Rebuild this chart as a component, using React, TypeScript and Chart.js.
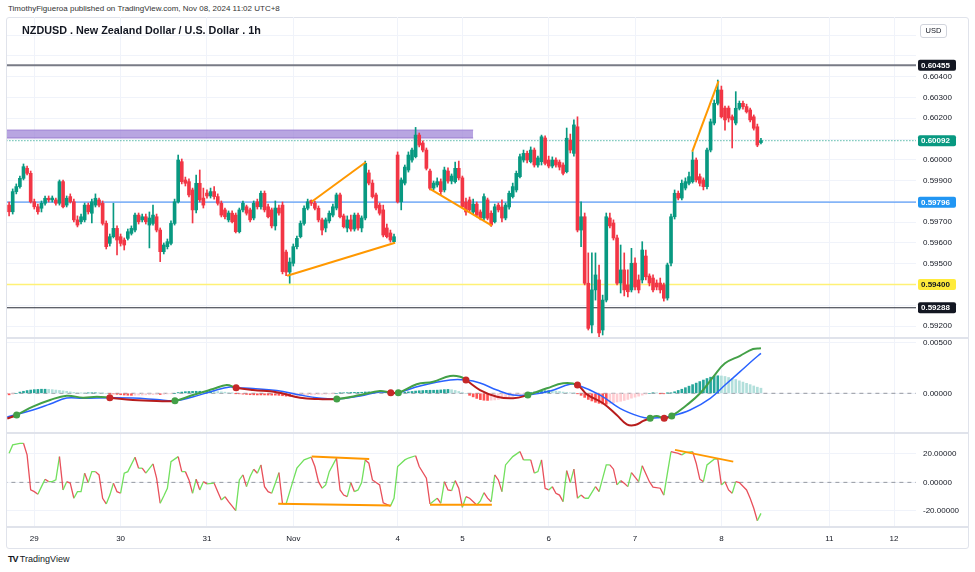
import React, { useEffect, useRef } from 'react';
import { Chart, registerables } from 'chart.js';

Chart.register(...registerables);

// ---------------- data ----------------
const dayLabels = ['29', '30', '31', 'Nov', '4', '5', '6', '7', '8', '11', '12'];
const dayBars = [7, 31, 55, 79, 108, 126, 150, 174, 198, 228, 246];

const opens = [
  0.59782, 0.59750, 0.59847, 0.59871, 0.59911, 0.59959, 0.59935, 0.59798, 0.59774, 0.59767,
  0.59791, 0.59815, 0.59807, 0.59807, 0.59791, 0.59895, 0.59782, 0.59823, 0.59798, 0.59711,
  0.59702, 0.59711, 0.59782, 0.59743, 0.59782, 0.59807, 0.59791, 0.59694, 0.59598, 0.59630,
  0.59670, 0.59630, 0.59614, 0.59622, 0.59646, 0.59662, 0.59734, 0.59711, 0.59726, 0.59686,
  0.59694, 0.59726, 0.59662, 0.59558, 0.59582, 0.59598, 0.59694, 0.59798, 0.59991, 0.59903,
  0.59895, 0.59855, 0.59759, 0.59887, 0.59816, 0.59840, 0.59826, 0.59847, 0.59823, 0.59791,
  0.59759, 0.59711, 0.59743, 0.59734, 0.59654, 0.59759, 0.59774, 0.59759, 0.59720, 0.59798,
  0.59774, 0.59839, 0.59774, 0.59759, 0.59682, 0.59768, 0.59782, 0.59556, 0.59460, 0.59502,
  0.59582, 0.59630, 0.59694, 0.59767, 0.59804, 0.59791, 0.59767, 0.59711, 0.59672, 0.59706,
  0.59734, 0.59768, 0.59831, 0.59730, 0.59672, 0.59711, 0.59667, 0.59734, 0.59672, 0.59720,
  0.59937, 0.59888, 0.59831, 0.59782, 0.59759, 0.59672, 0.59648, 0.59606, 0.60023, 0.59798,
  0.59888, 0.59951, 0.59999, 0.60015, 0.60119, 0.60081, 0.60047, 0.59946, 0.59864, 0.59879,
  0.59895, 0.59855, 0.59946, 0.59898, 0.59895, 0.59959, 0.59913, 0.59797, 0.59807, 0.59749,
  0.59787, 0.59749, 0.59720, 0.59807, 0.59743, 0.59702, 0.59782, 0.59773, 0.59720, 0.59773,
  0.59823, 0.59855, 0.59919, 0.59999, 0.60031, 0.59991, 0.60047, 0.59975, 0.59991, 0.60105,
  0.59999, 0.59970, 0.59999, 0.59989, 0.59975, 0.59943, 0.60095, 0.60031, 0.60159, 0.59662,
  0.59726, 0.59406, 0.59205, 0.59374, 0.59422, 0.59181, 0.59325, 0.59720, 0.59696, 0.59624,
  0.59407, 0.59470, 0.59398, 0.59374, 0.59503, 0.59422, 0.59422, 0.59537, 0.59441, 0.59431,
  0.59407, 0.59407, 0.59398, 0.59335, 0.59503, 0.59726, 0.59839, 0.59816, 0.59864, 0.59887,
  0.59895, 0.59999, 0.59919, 0.59903, 0.59871, 0.60047, 0.60177, 0.60272, 0.60336, 0.60249,
  0.60249, 0.60207, 0.60177, 0.60248, 0.60272, 0.60256, 0.60240, 0.60207, 0.60159, 0.60083,
];
const highs = [
  0.59797, 0.59860, 0.59884, 0.59922, 0.59980, 0.59970, 0.59946, 0.59811, 0.59787, 0.59802,
  0.59826, 0.59826, 0.59826, 0.59816, 0.59903, 0.59903, 0.59826, 0.59836, 0.59811, 0.59730,
  0.59739, 0.59792, 0.59792, 0.59811, 0.59836, 0.59816, 0.59802, 0.59706, 0.59643, 0.59791,
  0.59682, 0.59643, 0.59624, 0.59667, 0.59682, 0.59744, 0.59744, 0.59739, 0.59739, 0.59749,
  0.59782, 0.59739, 0.59672, 0.59600, 0.59619, 0.59706, 0.59811, 0.60023, 0.60004, 0.59917,
  0.59908, 0.59864, 0.59927, 0.59951, 0.59864, 0.59855, 0.59864, 0.59871, 0.59836, 0.59802,
  0.59768, 0.59754, 0.59754, 0.59744, 0.59768, 0.59802, 0.59782, 0.59768, 0.59802, 0.59811,
  0.59850, 0.59850, 0.59787, 0.59768, 0.59802, 0.59782, 0.59797, 0.59566, 0.59528, 0.59595,
  0.59633, 0.59706, 0.59778, 0.59811, 0.59807, 0.59802, 0.59778, 0.59720, 0.59720, 0.59754,
  0.59787, 0.59840, 0.59840, 0.59739, 0.59730, 0.59734, 0.59744, 0.59744, 0.59730, 0.59994,
  0.59951, 0.59903, 0.59840, 0.59792, 0.59782, 0.59691, 0.59662, 0.59643, 0.60038, 0.59913,
  0.59975, 0.60038, 0.60057, 0.60156, 0.60129, 0.60091, 0.60057, 0.59956, 0.59898, 0.59913,
  0.59908, 0.59965, 0.59961, 0.59932, 0.59989, 0.59994, 0.59922, 0.59816, 0.59821, 0.59811,
  0.59797, 0.59759, 0.59836, 0.59816, 0.59754, 0.59787, 0.59792, 0.59807, 0.59792, 0.59850,
  0.59888, 0.59946, 0.60028, 0.60047, 0.60042, 0.60062, 0.60057, 0.60018, 0.60119, 0.60115,
  0.60018, 0.60014, 0.60009, 0.59999, 0.59985, 0.60153, 0.60124, 0.60192, 0.60207, 0.59798,
  0.59744, 0.59552, 0.59552, 0.59552, 0.59494, 0.59349, 0.59744, 0.59744, 0.59711, 0.59638,
  0.59590, 0.59552, 0.59470, 0.59574, 0.59528, 0.59446, 0.59606, 0.59566, 0.59451, 0.59446,
  0.59422, 0.59431, 0.59407, 0.59503, 0.59739, 0.59855, 0.59850, 0.59903, 0.59913, 0.59941,
  0.60039, 0.60009, 0.59932, 0.59913, 0.60057, 0.60196, 0.60288, 0.60384, 0.60355, 0.60259,
  0.60259, 0.60216, 0.60328, 0.60283, 0.60283, 0.60268, 0.60249, 0.60216, 0.60172, 0.60104,
];
const lows = [
  0.59730, 0.59739, 0.59836, 0.59864, 0.59903, 0.59927, 0.59792, 0.59763, 0.59739, 0.59749,
  0.59782, 0.59797, 0.59797, 0.59782, 0.59782, 0.59768, 0.59773, 0.59792, 0.59701, 0.59677,
  0.59691, 0.59701, 0.59739, 0.59696, 0.59773, 0.59773, 0.59686, 0.59571, 0.59585, 0.59624,
  0.59542, 0.59585, 0.59566, 0.59614, 0.59638, 0.59653, 0.59691, 0.59701, 0.59691, 0.59576,
  0.59686, 0.59653, 0.59510, 0.59547, 0.59571, 0.59590, 0.59686, 0.59792, 0.59884, 0.59874,
  0.59821, 0.59696, 0.59744, 0.59797, 0.59768, 0.59816, 0.59816, 0.59811, 0.59782, 0.59725,
  0.59715, 0.59701, 0.59696, 0.59648, 0.59648, 0.59749, 0.59734, 0.59701, 0.59711, 0.59763,
  0.59763, 0.59749, 0.59720, 0.59672, 0.59662, 0.59734, 0.59451, 0.59442, 0.59406, 0.59489,
  0.59571, 0.59624, 0.59686, 0.59759, 0.59780, 0.59759, 0.59701, 0.59638, 0.59653, 0.59696,
  0.59725, 0.59759, 0.59720, 0.59672, 0.59653, 0.59657, 0.59657, 0.59662, 0.59653, 0.59711,
  0.59879, 0.59816, 0.59759, 0.59734, 0.59629, 0.59624, 0.59604, 0.59600, 0.59792, 0.59759,
  0.59879, 0.59941, 0.59989, 0.60009, 0.60062, 0.60038, 0.59951, 0.59855, 0.59855, 0.59869,
  0.59831, 0.59845, 0.59888, 0.59884, 0.59888, 0.59903, 0.59768, 0.59734, 0.59749, 0.59739,
  0.59725, 0.59711, 0.59711, 0.59711, 0.59679, 0.59696, 0.59749, 0.59701, 0.59711, 0.59763,
  0.59816, 0.59845, 0.59913, 0.59989, 0.59985, 0.59985, 0.59965, 0.59965, 0.59975, 0.59975,
  0.59961, 0.59961, 0.59965, 0.59951, 0.59927, 0.59937, 0.60033, 0.60018, 0.59653, 0.59582,
  0.59398, 0.59181, 0.59167, 0.59325, 0.59149, 0.59157, 0.59316, 0.59672, 0.59614, 0.59398,
  0.59359, 0.59345, 0.59340, 0.59364, 0.59374, 0.59359, 0.59407, 0.59422, 0.59393, 0.59364,
  0.59374, 0.59359, 0.59320, 0.59325, 0.59489, 0.59715, 0.59807, 0.59807, 0.59855, 0.59879,
  0.59888, 0.59893, 0.59874, 0.59855, 0.59860, 0.60038, 0.60168, 0.60264, 0.60201, 0.60143,
  0.60182, 0.60057, 0.60168, 0.60240, 0.60244, 0.60225, 0.60182, 0.60143, 0.60063, 0.60076,
];
const closes = [
  0.59750, 0.59847, 0.59871, 0.59911, 0.59967, 0.59935, 0.59798, 0.59774, 0.59750, 0.59791,
  0.59815, 0.59807, 0.59816, 0.59791, 0.59895, 0.59774, 0.59815, 0.59798, 0.59711, 0.59686,
  0.59726, 0.59782, 0.59750, 0.59798, 0.59815, 0.59782, 0.59694, 0.59582, 0.59630, 0.59670,
  0.59614, 0.59598, 0.59590, 0.59654, 0.59670, 0.59734, 0.59702, 0.59726, 0.59702, 0.59720,
  0.59734, 0.59662, 0.59558, 0.59590, 0.59606, 0.59694, 0.59798, 0.59999, 0.59895, 0.59887,
  0.59831, 0.59759, 0.59887, 0.59807, 0.59782, 0.59826, 0.59847, 0.59823, 0.59791, 0.59734,
  0.59726, 0.59744, 0.59702, 0.59654, 0.59759, 0.59791, 0.59743, 0.59711, 0.59791, 0.59774,
  0.59839, 0.59759, 0.59726, 0.59682, 0.59768, 0.59744, 0.59462, 0.59460, 0.59508, 0.59582,
  0.59622, 0.59694, 0.59767, 0.59798, 0.59791, 0.59767, 0.59711, 0.59662, 0.59711, 0.59743,
  0.59774, 0.59831, 0.59726, 0.59678, 0.59711, 0.59667, 0.59734, 0.59672, 0.59720, 0.59983,
  0.59888, 0.59823, 0.59768, 0.59743, 0.59638, 0.59630, 0.59614, 0.59630, 0.59798, 0.59903,
  0.59965, 0.60023, 0.60047, 0.60119, 0.60071, 0.60047, 0.59959, 0.59863, 0.59888, 0.59895,
  0.59847, 0.59951, 0.59898, 0.59922, 0.59959, 0.59913, 0.59774, 0.59749, 0.59759, 0.59787,
  0.59734, 0.59720, 0.59823, 0.59719, 0.59686, 0.59774, 0.59759, 0.59720, 0.59782, 0.59839,
  0.59871, 0.59935, 0.60015, 0.60031, 0.59999, 0.60047, 0.59975, 0.60009, 0.60111, 0.59983,
  0.59970, 0.59999, 0.59975, 0.59965, 0.59935, 0.60104, 0.60047, 0.60168, 0.59662, 0.59726,
  0.59406, 0.59189, 0.59374, 0.59446, 0.59167, 0.59325, 0.59726, 0.59682, 0.59624, 0.59406,
  0.59470, 0.59374, 0.59365, 0.59502, 0.59388, 0.59374, 0.59566, 0.59437, 0.59407, 0.59374,
  0.59388, 0.59374, 0.59334, 0.59494, 0.59726, 0.59839, 0.59816, 0.59887, 0.59895, 0.59919,
  0.59999, 0.59903, 0.59887, 0.59871, 0.60047, 0.60183, 0.60272, 0.60336, 0.60207, 0.60192,
  0.60201, 0.60192, 0.60248, 0.60272, 0.60256, 0.60231, 0.60192, 0.60152, 0.60071, 0.60092,
];

// horizontal levels drawn on the price pane
const levelValues = [0.60455, 0.60092, 0.59796, 0.594, 0.59288];
// purple supply zone
const zoneTop = 0.60143;
const zoneBottom = 0.60105;
const zoneEndBar = 129;
// orange trend lines on price pane
const priceTrendStartBar = [77.3, 84.1, 117.0, 189.9];
const priceTrendStartVal = [0.59442, 0.59798, 0.5986, 0.60039];
const priceTrendEndBar = [107.3, 99.1, 134.2, 197.2];
const priceTrendEndVal = [0.59601, 0.59988, 0.59683, 0.60379];

// price axis
const priceGrid = [0.592, 0.593, 0.594, 0.595, 0.596, 0.597, 0.598, 0.599, 0.6, 0.601, 0.602, 0.603, 0.604, 0.605, 0.606];
const priceShown = [0.592, 0.595, 0.596, 0.597, 0.599, 0.6, 0.602, 0.603, 0.604];

// MACD
const macdBars = [-0.5, 2.1, 6.6, 11.4, 16, 20.5, 24.4, 28, 34.4, 41, 46.1, 51.1, 56.7, 60.5, 63.1, 67.8, 74.4, 80.9, 86, 91.1, 97.6, 103.1, 106.1, 108.2, 113.3, 117.9, 122.6, 125.4, 127, 130.9, 135.6, 140.1, 144.2, 149.5, 154, 158, 160.6, 165.1, 168.9, 171.7, 174, 176.3, 178.2, 180, 182.1, 184.2, 188.4, 192.1, 195.8, 199, 203.2, 206.8, 209];
const macdValues = [-0.00247, -0.00213, -0.00131, -0.00066, -0.00024, -0.00043, -0.00033, -0.00043, -0.00066, -0.00075, -0.00073, -0.00017, 0.00042, 0.00081, 0.00055, 0.00032, 0.0001, -0.00043, -0.00056, -0.00056, -0.00017, 0.00023, 0.00006, 0.00006, 0.00088, 0.00114, 0.0017, 0.00163, 0.0013, 0.00032, -0.00033, -0.00049, -0.00017, 0.00049, 0.00098, 0.00081, -0.0001, -0.00098, -0.00213, -0.00304, -0.00311, -0.00271, -0.00245, -0.00222, -0.00245, -0.00222, -0.00115, 0.0, 0.00163, 0.00294, 0.00368, 0.00434, 0.00441];
const signalBars = [-0.5, 6.6, 11.4, 16, 20.5, 28, 34.4, 41, 46.1, 51, 56.7, 61.4, 63.1, 67.8, 74.4, 80.9, 86, 91.1, 97.6, 103, 106.1, 108.2, 114.2, 122.6, 127, 130.9, 135.6, 140.1, 144.2, 150.4, 155.9, 158, 164.3, 169.8, 175.4, 178.2, 181, 184.2, 189.3, 194.9, 199, 203.2, 206.8, 209];
const signalValues = [-0.00232, -0.00164, -0.00105, -0.00046, -0.00049, -0.00043, -0.00046, -0.00061, -0.00073, -0.00036, 0.00023, 0.00062, 0.00055, 0.00047, 0.00027, -0.00017, -0.00046, -0.00056, -0.00026, 0.00013, 0.00006, 0.00006, 0.00072, 0.0013, 0.0013, 0.00101, 0.00032, -0.00017, -0.00017, 0.00023, 0.00088, 0.00081, -0.00017, -0.00147, -0.00229, -0.00245, -0.00237, -0.00222, -0.00164, -0.00049, 0.00081, 0.00212, 0.00326, 0.00392];
const bullCrossBars = [2.1, 46.1, 91.1, 108.2, 144.2, 178.2, 184.2];
const bullCrossValues = [-0.00213, -0.00073, -0.00056, 0.00006, -0.00017, -0.00245, -0.00222];
const bearCrossBars = [28, 63.1, 106.1, 127, 158, 182.1];
const bearCrossValues = [-0.00043, 0.00055, 0.00006, 0.0013, 0.00081, -0.00245];
const histogram = [
  -0.00015, -0.00008, 0, 0.00012, 0.0002, 0.00027, 0.00032, 0.00036, 0.00038, 0.0004,
  0.0004, 0.00039, 0.00036, 0.00032, 0.00028, 0.00024, 0.0002, 0.00014, 0.00009, 0.00005,
  0.00003, 0.00002, 0.00003, 0.00004, 0.00004, 0.00003, 0.00001, 0, -0.00002, -0.00006,
  -0.0001, -0.00014, -0.00017, -0.00019, -0.0002, -0.00019, -0.00018, -0.00017, -0.00015, -0.00014,
  -0.00013, -0.00012, -0.00012, -0.00009, -0.00006, -0.00003, 0, 0.00007, 0.00012, 0.00016,
  0.00018, 0.00019, 0.0002, 0.0002, 0.00019, 0.00019, 0.00019, 0.00018, 0.00017, 0.00014,
  0.00011, 0.00006, 0.00002, -0.00001, -0.00005, -0.00008, -0.00011, -0.00014, -0.00015, -0.00016,
  -0.00016, -0.00016, -0.00017, -0.00018, -0.00018, -0.0002, -0.00024, -0.00028, -0.00029, -0.00028,
  -0.00026, -0.00023, -0.00019, -0.00016, -0.00014, -0.00012, -0.0001, -0.00009, -0.00008, -0.00006,
  -0.00003, 0, 0.00003, 0.00005, 0.00006, 0.00008, 0.00009, 0.00009, 0.0001, 0.00013,
  0.00014, 0.00013, 0.00012, 0.0001, 0.00007, 0.00003, 0, -0.00001, 0.00001, 0.00005,
  0.0001, 0.00014, 0.00018, 0.00022, 0.00025, 0.00027, 0.00029, 0.0003, 0.0003, 0.00031,
  0.00033, 0.00036, 0.00038, 0.00035, 0.00028, 0.00018, 0.00008, 0, -0.0002, -0.00035,
  -0.0005, -0.00062, -0.00068, -0.0007, -0.00068, -0.00065, -0.0006, -0.00052, -0.00045, -0.00037,
  -0.0003, -0.00022, -0.00012, -0.00005, 0, 0.00008, 0.00013, 0.00018, 0.00022, 0.00025,
  0.00027, 0.00026, 0.00022, 0.00018, 0.00012, 0.00008, 0.00005, 0.00002, -0.00002, -0.0002,
  -0.0004, -0.0006, -0.00075, -0.00088, -0.00098, -0.00105, -0.00108, -0.001, -0.00092, -0.00085,
  -0.00078, -0.0007, -0.0006, -0.00048, -0.00038, -0.00028, -0.00018, -0.00008, 0, 0.00005,
  0.00004, -0.00002, -0.00003, 0.00001, 0.00003, 0.00015, 0.00028, 0.0004, 0.00055, 0.0007,
  0.00085, 0.001, 0.00115, 0.0013, 0.00145, 0.00158, 0.00168, 0.00172, 0.0017, 0.00165,
  0.00155, 0.00145, 0.00135, 0.00122, 0.0011, 0.00098, 0.00085, 0.00072, 0.0006, 0.0005,
];

// Oscillator (lower pane)
const oscBars = [0, 1, 3, 4, 5, 6, 7, 8, 9, 10, 11, 12, 13, 14, 15, 16, 17, 18, 19, 20, 21, 22, 23, 24, 25, 26, 27, 28, 29, 30, 31, 32, 33, 35, 36, 37, 38, 40, 41, 42, 43, 44, 45, 47, 48, 49, 50, 51, 52, 53, 54, 55, 57, 58, 59, 60, 61, 63, 64, 65, 66, 67, 68, 69, 70, 71, 72, 73, 74, 75, 76, 77, 79, 80, 82, 84, 85, 86, 87, 88, 89, 91, 92, 93, 94, 95, 96, 97, 98, 99, 100, 101, 103, 104, 106, 107, 108, 110, 111, 113, 114, 116, 117, 119, 120, 121, 122, 123, 124, 125, 126, 127, 128, 130, 131, 132, 133, 134, 135, 136, 137, 138, 140, 142, 143, 145, 146, 147, 148, 149, 150, 151, 152, 153, 154, 155, 156, 157, 158, 159, 160, 161, 163, 164, 166, 167, 168, 169, 170, 171, 172, 173, 175, 176, 178, 179, 181, 182, 183, 184, 186, 187, 188, 190, 191, 192, 193, 194, 196, 197, 198, 199, 200, 201, 202, 203, 205, 206, 207, 208, 209];
const oscValues = [20.3, 26.2, 27.3, 27.3, 19.2, -5.3, -6.5, -8.3, -3.0, 2.2, 0.5, 0.5, 1.7, 18.0, -5.3, 0.5, -0.6, -11.1, -6.5, -6.5, 6.4, -0.2, 7.5, 7.5, 5.2, -11.1, -15.1, -8.9, -0.6, -6.5, -7.6, 6.4, 7.5, 17.6, 9.9, 9.9, 6.4, 12.9, 2.9, -14.6, -9.5, -4.1, 14.5, 18.0, 7.5, 7.5, 1.7, -7.6, 2.2, -5.3, 0.5, -1.1, -0.6, -6.5, -12.3, -10.0, -13.5, -19.8, 1.7, 5.2, -3.0, 4.1, 9.2, 6.4, 12.2, -3.0, -6.5, -7.6, -0.6, 6.8, -15.1, -15.1, 1.7, 9.9, 15.7, 17.6, 11.1, 0.5, -4.1, -1.8, 7.5, 16.9, -5.3, -8.9, -10.0, -0.2, -6.5, -5.3, -0.2, 15.7, 13.4, 1.7, -1.8, -14.3, -16.6, -11.1, 11.1, 15.7, 17.0, 18.6, 11.1, 2.9, -15.1, -11.1, -14.6, 0.5, -5.3, -5.8, 1.2, -4.1, -17.4, -10.0, -11.1, -15.8, -13.0, -7.2, -11.0, -13.5, 5.2, 1.7, -6.5, 12.2, 18.0, 21.5, 15.7, 15.7, 6.4, 7.5, 15.7, -4.1, -5.3, -3.0, -7.6, -8.9, -13.5, 8.2, -0.2, 9.2, -11.1, -8.9, -11.1, -11.1, -3.0, -6.5, 12.2, 12.2, 9.2, -1.8, 1.2, -0.6, -3.0, 6.8, 0.5, 11.6, 0.5, -3.4, -4.1, -8.9, 6.4, 21.5, 20.3, 19.2, 20.8, 21.5, 13.4, 2.2, 0.5, 12.2, 16.2, 16.2, -1.8, 0.5, -5.3, -7.6, 0.5, -0.2, -5.3, -11.1, -18.1, -26.8, -21.7];
const oscTrendStartBar = [84.1, 74.8, 117.0, 185.1];
const oscTrendStartVal = [18.0, -15.0, -15.7, 22.7];
const oscTrendEndBar = [100.1, 106.1, 134.2, 201.3];
const oscTrendEndVal = [16.4, -16.2, -15.7, 14.5];

// ---------------- styling ----------------
const UP = '#089981';
const DOWN = '#f23645';
const FONT = "'Liberation Sans', Arial, sans-serif";
const levelStyles = [
  { line: '#787b86', width: 2, dash: [] as number[], bg: '#131722', fg: '#ffffff' },
  { line: '#089981', width: 1, dash: [1, 2], bg: '#089981', fg: '#ffffff' },
  { line: '#5b9cf6', width: 1.2, dash: [] as number[], bg: '#2196f3', fg: '#ffffff' },
  { line: '#fff176', width: 1.5, dash: [] as number[], bg: '#ffeb3b', fg: '#131722' },
  { line: '#2a2e39', width: 1.2, dash: [] as number[], bg: '#131722', fg: '#ffffff' },
];

const X_MIN = -0.584;
const X_MAX = 252.1;

function macdBullishAt(k: number): boolean {
  let state = false;
  let last = -Infinity;
  bullCrossBars.forEach((b) => { if (b <= k && b > last) { last = b; state = true; } });
  bearCrossBars.forEach((b) => { if (b <= k && b > last) { last = b; state = false; } });
  return state;
}

const levelLabelPlugin = {
  id: 'levelLabels',
  afterDraw(chart: any) {
    const { ctx } = chart;
    const ys = chart.scales.price;
    const macd = chart.scales.macd;
    const osc = chart.scales.osc;
    ctx.save();
    // pane separators
    ctx.strokeStyle = '#e0e3eb';
    ctx.lineWidth = 2;
    [macd.top, osc.top, chart.chartArea.bottom].forEach((y: number) => {
      ctx.beginPath();
      ctx.moveTo(0, Math.round(y));
      ctx.lineTo(chart.width, Math.round(y));
      ctx.stroke();
    });
    ctx.font = `bold 8px ${FONT}`;
    ctx.textBaseline = 'middle';
    levelValues.forEach((v, i) => {
      const y = ys.getPixelForValue(v);
      const st = levelStyles[i];
      ctx.fillStyle = st.bg;
      ctx.beginPath();
      ctx.roundRect(ys.left + 2, y - 5.5, 38, 11, 2);
      ctx.fill();
      ctx.fillStyle = st.fg;
      ctx.fillText(v.toFixed(5), ys.left + 5, y + 0.5);
    });
    ctx.restore();
  },
};

function buildConfig(): any {
  const idx = closes.map((_, i) => i);
  const datasets: any[] = [];

  // purple zone
  datasets.push({
    type: 'line', yAxisID: 'price', order: 20,
    data: [{ x: X_MIN - 1, y: zoneTop }, { x: zoneEndBar, y: zoneTop }],
    borderColor: 'rgba(149,117,205,0.9)', borderWidth: 1, pointRadius: 0,
  });
  datasets.push({
    type: 'line', yAxisID: 'price', order: 19,
    data: [{ x: X_MIN - 1, y: zoneBottom }, { x: zoneEndBar, y: zoneBottom }],
    borderColor: 'rgba(149,117,205,0.9)', borderWidth: 1, pointRadius: 0,
    fill: '-1', backgroundColor: 'rgba(160,135,215,0.75)',
  });

  // horizontal levels
  levelValues.forEach((v, i) => {
    const st = levelStyles[i];
    datasets.push({
      type: 'line', yAxisID: 'price', order: 15,
      data: [{ x: X_MIN - 1, y: v }, { x: X_MAX + 1, y: v }],
      borderColor: st.line, borderWidth: st.width, borderDash: st.dash, pointRadius: 0,
    });
  });

  // candle wicks
  datasets.push({
    type: 'bar', yAxisID: 'price', order: 5, grouped: false,
    data: idx.map((i) => ({ x: i, y: [lows[i], highs[i]] })),
    backgroundColor: (c: any) => (closes[c.dataIndex] >= opens[c.dataIndex] ? UP : DOWN),
    barThickness: 1, borderWidth: 0,
  });
  // candle bodies
  datasets.push({
    type: 'bar', yAxisID: 'price', order: 4, grouped: false,
    data: idx.map((i) => ({ x: i, y: [opens[i], closes[i]] })),
    backgroundColor: (c: any) => (closes[c.dataIndex] >= opens[c.dataIndex] ? UP : DOWN),
    barThickness: 3, borderWidth: 0, minBarLength: 1,
  });

  // price trend lines
  priceTrendStartBar.forEach((b, i) => {
    datasets.push({
      type: 'line', yAxisID: 'price', order: 1,
      data: [{ x: b, y: priceTrendStartVal[i] }, { x: priceTrendEndBar[i], y: priceTrendEndVal[i] }],
      borderColor: '#ff9800', borderWidth: 2, pointRadius: 0,
    });
  });

  // MACD zero line
  datasets.push({
    type: 'line', yAxisID: 'macd', order: 12,
    data: [{ x: X_MIN - 1, y: 0 }, { x: X_MAX + 1, y: 0 }],
    borderColor: '#9598a1', borderWidth: 1, borderDash: [4, 4], pointRadius: 0,
  });
  // histogram
  datasets.push({
    type: 'bar', yAxisID: 'macd', order: 10, grouped: false,
    data: idx.map((i) => ({ x: i, y: histogram[i] })),
    backgroundColor: (c: any) => {
      const i = c.dataIndex;
      const h = histogram[i];
      const p = i > 0 ? histogram[i - 1] : h;
      if (h >= 0) return h >= p ? '#26a69a' : '#b2dfdb';
      return h <= p ? '#ff5252' : '#ffcdd2';
    },
    barThickness: 2, borderWidth: 0,
  });
  // signal
  datasets.push({
    type: 'line', yAxisID: 'macd', order: 3,
    data: signalBars.map((b, i) => ({ x: b, y: signalValues[i] })),
    borderColor: '#2962ff', borderWidth: 1.5, pointRadius: 0, tension: 0.4,
  });
  // macd
  datasets.push({
    type: 'line', yAxisID: 'macd', order: 2,
    data: macdBars.map((b, i) => ({ x: b, y: macdValues[i] })),
    borderColor: '#43a047', borderWidth: 2, pointRadius: 0, tension: 0.4,
    segment: {
      borderColor: (c: any) => (macdBullishAt((c.p0.parsed.x + c.p1.parsed.x) / 2) ? '#43a047' : '#b71c1c'),
    },
  });
  datasets.push({
    type: 'line', yAxisID: 'macd', order: 0, showLine: false,
    data: bullCrossBars.map((b, i) => ({ x: b, y: bullCrossValues[i] })),
    pointRadius: 3.5, pointBackgroundColor: '#43a047', pointBorderWidth: 0,
  });
  datasets.push({
    type: 'line', yAxisID: 'macd', order: 0, showLine: false,
    data: bearCrossBars.map((b, i) => ({ x: b, y: bearCrossValues[i] })),
    pointRadius: 3.5, pointBackgroundColor: '#c62828', pointBorderWidth: 0,
  });

  // oscillator zero
  datasets.push({
    type: 'line', yAxisID: 'osc', order: 12,
    data: [{ x: X_MIN - 1, y: 0 }, { x: X_MAX + 1, y: 0 }],
    borderColor: '#9598a1', borderWidth: 1, borderDash: [4, 4], pointRadius: 0,
  });
  datasets.push({
    type: 'line', yAxisID: 'osc', order: 3,
    data: oscBars.map((b, i) => ({ x: b, y: oscValues[i] })),
    borderWidth: 1.3, pointRadius: 0, borderColor: '#e8505b',
    segment: {
      borderColor: (c: any) => (c.p1.parsed.y >= c.p0.parsed.y ? '#72e05e' : '#e8505b'),
    },
  });
  oscTrendStartBar.forEach((b, i) => {
    datasets.push({
      type: 'line', yAxisID: 'osc', order: 1,
      data: [{ x: b, y: oscTrendStartVal[i] }, { x: oscTrendEndBar[i], y: oscTrendEndVal[i] }],
      borderColor: '#ff9800', borderWidth: 2, pointRadius: 0,
    });
  });

  const yCommon = {
    type: 'linear', position: 'right', stack: 'panes',
    border: { display: false },
    grid: { color: '#f0f3fa', drawTicks: false },
    ticks: { font: { size: 8, family: FONT }, color: '#131722', padding: 7, autoSkip: false },
    afterFit: (s: any) => { s.width = 52; s.paddingTop = 0; s.paddingBottom = 0; },
  };

  return {
    type: 'bar',
    data: { datasets },
    options: {
      animation: false,
      responsive: true,
      maintainAspectRatio: false,
      events: [],
      layout: { padding: 0, autoPadding: false },
      plugins: { legend: { display: false }, tooltip: { enabled: false }, title: { display: false } },
      scales: {
        x: {
          type: 'linear', min: X_MIN, max: X_MAX, offset: false,
          border: { display: false },
          grid: { color: '#f0f3fa', drawTicks: false, offset: false },
          afterBuildTicks: (s: any) => { s.ticks = dayBars.map((v) => ({ value: v })); },
          afterFit: (s: any) => { s.height = 21; s.paddingLeft = 0; s.paddingRight = 0; },
          ticks: {
            autoSkip: false, maxRotation: 0, padding: 7,
            font: { size: 8, family: FONT }, color: '#131722',
            callback: (v: any) => { const j = dayBars.indexOf(Number(v)); return j >= 0 ? dayLabels[j] : ''; },
          },
        },
        price: {
          ...yCommon, stackWeight: 321, min: 0.591425, max: 0.606873,
          afterBuildTicks: (s: any) => { s.ticks = priceGrid.map((v) => ({ value: v })); },
          ticks: {
            ...yCommon.ticks,
            callback: (v: any) => (priceShown.some((p) => Math.abs(p - v) < 1e-7) ? Number(v).toFixed(5) : ''),
          },
        },
        macd: {
          ...yCommon, stackWeight: 95, min: -0.003892, max: 0.005422,
          afterBuildTicks: (s: any) => { s.ticks = [0.005, 0].map((v) => ({ value: v })); },
          ticks: { ...yCommon.ticks, callback: (v: any) => Number(v).toFixed(5) },
        },
        osc: {
          ...yCommon, stackWeight: 94, min: -31.2, max: 34.5,
          afterBuildTicks: (s: any) => { s.ticks = [20, 0, -20].map((v) => ({ value: v })); },
          ticks: { ...yCommon.ticks, callback: (v: any) => Number(v).toFixed(5) },
        },
      },
    },
    plugins: [levelLabelPlugin],
  };
}

export default function App() {
  const canvasRef = useRef<HTMLCanvasElement | null>(null);
  useEffect(() => {
    if (!canvasRef.current) return;
    const chart = new Chart(canvasRef.current, buildConfig());
    return () => chart.destroy();
  }, []);

  return (
    <div style={{ position: 'fixed', left: 0, top: 0, width: 975, height: 572, background: '#ffffff', fontFamily: FONT, overflow: 'hidden' }}>
      <div style={{ position: 'absolute', left: 8, top: 4, fontSize: 8, color: '#333', whiteSpace: 'nowrap' }}>
        TimothyFigueroa published on TradingView.com, Nov 08, 2024 11:02 UTC+8
      </div>
      <div style={{ position: 'absolute', left: 6, top: 17, width: 961, height: 530, border: '1px solid #e0e3eb', borderRadius: 3 }} />
      <div style={{ position: 'absolute', left: 7, top: 17, width: 961, height: 531 }}>
        <canvas ref={canvasRef} />
      </div>
      <div style={{ position: 'absolute', left: 22, top: 24, fontSize: 10.8, fontWeight: 'bold', color: '#131722', whiteSpace: 'nowrap' }}>
        NZDUSD . New Zealand Dollar / U.S. Dollar . 1h
      </div>
      <div style={{ position: 'absolute', left: 920, top: 24, width: 25, height: 12, border: '1px solid #d1d4dc', borderRadius: 3, fontSize: 7.5, color: '#131722', textAlign: 'center', lineHeight: '12px' }}>
        USD
      </div>
      <div style={{ position: 'absolute', left: 8, top: 554, fontSize: 9, color: '#131722', whiteSpace: 'nowrap' }}>
        <span style={{ fontWeight: 'bold', letterSpacing: -1 }}>TV</span> TradingView
      </div>
    </div>
  );
}
